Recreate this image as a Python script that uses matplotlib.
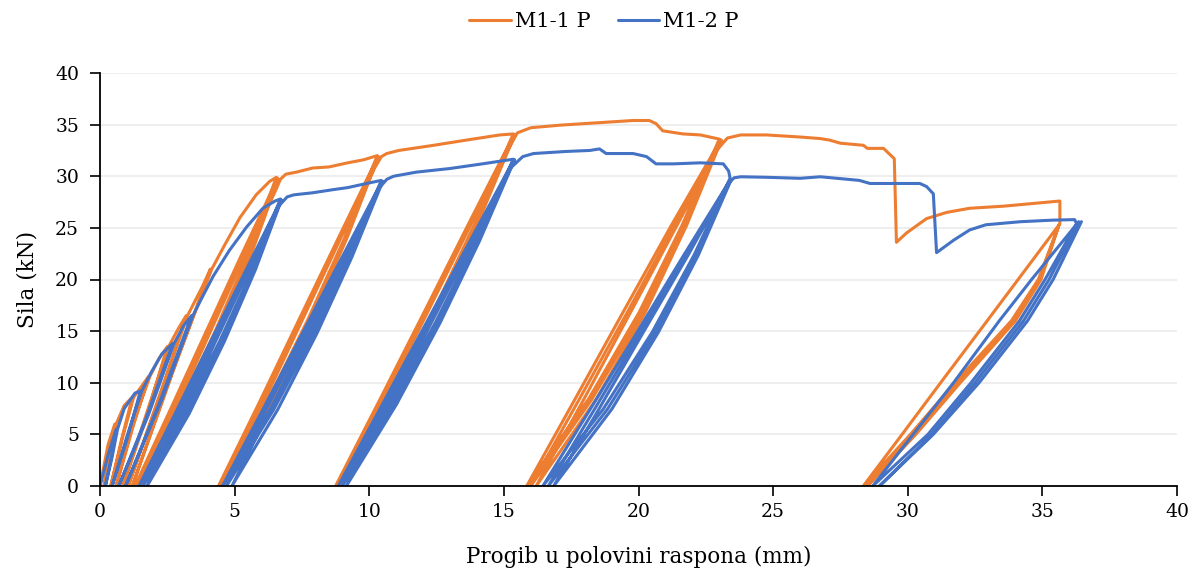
import matplotlib
matplotlib.use('Agg')
import matplotlib.pyplot as plt
import numpy as np

# ---------------- data (deflection mm, force kN) ----------------
series_names = ["M1-1 P", "M1-2 P"]
x_ticks = [0, 5, 10, 15, 20, 25, 30, 35, 40]
y_ticks = [0, 5, 10, 15, 20, 25, 30, 35, 40]

m11_stage0 = [(0, 0), (0.3, 4.0), (0.55, 6.0), (0.35, 3.0), (0.15, 0), (0.4, 3.5), (0.6, 6.0), (0.9, 7.8),
              (1.2, 8.6), (0.8, 4.5), (0.4, 0), (0.85, 4.8), (1.25, 8.6), (1.5, 9.5), (1.8, 10.6), (1.2, 5.5),
              (0.6, 0), (1.2, 5.8), (1.85, 10.6), (2.2, 12.4), (2.5, 13.5), (1.7, 6.5), (0.85, 0), (1.7, 6.8),
              (2.55, 13.5), (2.9, 15.2), (3.2, 16.5), (2.2, 8.5), (1.05, 0), (2.2, 8.7), (3.25, 16.5),
              (3.8, 19.3), (4.1, 21.0), (2.7, 11.0), (1.2, 0), (2.7, 11.2), (4.15, 21.0), (4.6, 23.2),
              (5.2, 26.0), (5.8, 28.2), (6.3, 29.5), (6.55, 29.9)]
m11_stage1 = [(6.55, 29.9), (5.49, 22.4), (4.28, 15.0), (2.91, 7.5), (1.3, 0), (2.63, 7.5), (3.95, 15.0),
              (5.26, 22.4), (6.6, 29.8), (5.56, 22.4), (4.37, 15.0), (3.01, 7.5), (1.4, 0), (2.73, 7.5),
              (4.04, 15.0), (5.33, 22.4), (6.62, 29.7), (5.61, 22.4), (4.44, 15.0), (3.09, 7.5), (1.5, 0),
              (2.81, 7.5), (4.11, 15.0), (5.38, 22.4), (6.5, 28.5), (6.7, 29.7), (6.9, 30.2), (7.3, 30.4),
              (7.9, 30.8), (8.5, 30.9), (9.2, 31.3), (9.8, 31.6), (10.3, 32.0)]
m11_stage2 = [(10.3, 32.0), (9.08, 24.0), (7.7, 16.0), (6.18, 8.0), (4.4, 0), (5.9, 8.0), (7.37, 16.0),
              (8.85, 24.0), (10.32, 31.9), (9.13, 24.0), (7.77, 16.0), (6.26, 8.0), (4.5, 0), (5.98, 8.0),
              (7.44, 16.0), (8.9, 24.0), (10.34, 31.9), (9.17, 24.0), (7.83, 16.0), (6.34, 8.0), (4.6, 0),
              (6.06, 8.0), (7.5, 16.0), (8.94, 24.0), (10.2, 30.8), (10.45, 31.9), (10.65, 32.2),
              (11.1, 32.5), (12.4, 33.0), (13.6, 33.5), (14.85, 34.0), (15.35, 34.1)]
m11_stage3 = [(15.35, 34.1), (13.94, 25.5), (12.4, 17.0), (10.7, 8.5), (8.75, 0), (10.42, 8.5), (12.07, 17.0),
              (13.71, 25.5), (15.37, 34.0), (13.99, 25.5), (12.46, 17.0), (10.78, 8.5), (8.85, 0),
              (10.5, 8.5), (12.13, 17.0), (13.76, 25.5), (15.4, 34.0), (14.04, 25.5), (12.53, 17.0),
              (10.86, 8.5), (8.95, 0), (10.58, 8.5), (12.2, 17.0), (13.81, 25.5), (15.2, 32.8), (15.5, 34.2),
              (16.0, 34.7), (17.1, 34.95), (18.6, 35.2), (19.8, 35.4), (20.4, 35.4), (20.65, 35.1),
              (20.9, 34.4), (21.65, 34.1), (22.3, 34.0), (23.0, 33.6)]
m11_stage4 = [(23.0, 33.6), (21.61, 25.2), (20.02, 16.8), (18.14, 8.4), (15.85, 0), (17.64, 8.4),
              (19.42, 16.8), (21.21, 25.2), (23.05, 33.5), (21.7, 25.2), (20.14, 16.8), (18.27, 8.4),
              (16.0, 0), (17.8, 8.4), (19.58, 16.8), (21.33, 25.2), (23.08, 33.5), (21.78, 25.2),
              (20.25, 16.8), (18.43, 8.4), (16.2, 0), (17.97, 8.4), (19.7, 16.8), (21.42, 25.2), (22.9, 32.5),
              (23.3, 33.7), (23.8, 34.0), (24.75, 34.0), (26.0, 33.8), (26.75, 33.65), (27.1, 33.5),
              (27.5, 33.2), (28.35, 33.0), (28.5, 32.7), (29.1, 32.7), (29.5, 31.7), (29.58, 23.6),
              (29.95, 24.5), (30.7, 25.9), (31.45, 26.5), (32.3, 26.9), (33.55, 27.1), (34.8, 27.4),
              (35.65, 27.6), (35.65, 25.4)]
m11_stage5 = [(35.65, 25.4), (34.1, 20.0), (32.95, 16.0), (31.22, 10.0), (29.79, 5.0), (28.35, 0),
              (30.1, 5.0), (31.75, 10.0), (33.85, 16.0), (34.85, 20.0), (35.62, 25.3), (34.95, 20.0),
              (34.0, 16.0), (31.95, 10.0), (30.3, 5.0), (28.5, 0), (30.2, 5.0), (31.85, 10.0), (33.9, 16.0),
              (34.9, 20.0), (35.6, 25.2)]

m12_stage0 = [(0, 0), (0.3, 3.0), (0.6, 5.5), (0.4, 2.5), (0.2, 0), (0.45, 2.8), (0.65, 5.5), (0.9, 7.5),
              (1.3, 9.0), (1.5, 9.2), (1.0, 4.5), (0.45, 0), (1.0, 4.8), (1.55, 9.2), (1.9, 11.0), (2.3, 12.8),
              (2.7, 13.8), (1.7, 6.5), (0.7, 0), (1.8, 6.9), (2.75, 13.8), (3.1, 15.5), (3.4, 16.5),
              (2.2, 8.0), (0.95, 0), (2.3, 8.4), (3.45, 16.5), (3.8, 18.3), (4.2, 20.3), (4.8, 22.8),
              (5.45, 25.1), (6.05, 26.9), (6.5, 27.6), (6.7, 27.8)]
m12_stage1 = [(6.7, 27.8), (5.67, 21.0), (4.44, 14.0), (3.07, 7.0), (1.45, 0), (2.79, 7.0), (4.11, 14.0),
              (5.44, 21.0), (6.72, 27.7), (5.73, 21.0), (4.53, 14.0), (3.19, 7.0), (1.6, 0), (2.91, 7.0),
              (4.2, 14.0), (5.5, 21.0), (6.74, 27.7), (5.78, 21.0), (4.62, 14.0), (3.31, 7.0), (1.75, 0),
              (3.03, 7.0), (4.29, 14.0), (5.55, 21.0), (6.6, 27.0), (6.95, 28.0), (7.2, 28.2), (7.9, 28.4),
              (8.65, 28.7), (9.2, 28.9), (9.9, 29.3), (10.45, 29.6)]
m12_stage2 = [(10.45, 29.6), (9.23, 22.2), (7.85, 14.8), (6.33, 7.4), (4.55, 0), (6.05, 7.4), (7.52, 14.8),
              (9.0, 22.2), (10.47, 29.5), (9.29, 22.2), (7.95, 14.8), (6.45, 7.4), (4.7, 0), (6.17, 7.4),
              (7.62, 14.8), (9.06, 22.2), (10.5, 29.5), (9.36, 22.2), (8.06, 14.8), (6.6, 7.4), (4.9, 0),
              (6.32, 7.4), (7.73, 14.8), (9.13, 22.2), (10.35, 28.8), (10.65, 29.7), (10.9, 30.0),
              (11.75, 30.4), (13.0, 30.75), (14.2, 31.2), (15.35, 31.65)]
m12_stage3 = [(15.35, 31.65), (13.97, 23.7), (12.45, 15.8), (10.77, 7.9), (8.85, 0), (10.49, 7.9),
              (12.12, 15.8), (13.74, 23.7), (15.37, 31.6), (14.03, 23.7), (12.54, 15.8), (10.89, 7.9),
              (9.0, 0), (10.61, 7.9), (12.21, 15.8), (13.8, 23.7), (15.4, 31.6), (14.09, 23.7),
              (12.63, 15.8), (11.01, 7.9), (9.15, 0), (10.73, 7.9), (12.3, 15.8), (13.86, 23.7),
              (15.25, 30.8), (15.7, 31.9), (16.1, 32.2), (17.3, 32.4), (18.2, 32.5), (18.55, 32.65),
              (18.8, 32.2), (19.8, 32.2), (20.3, 31.9), (20.65, 31.2), (21.3, 31.2), (22.3, 31.3),
              (23.15, 31.2), (23.35, 30.5), (23.4, 29.8)]
m12_stage4 = [(23.4, 29.8), (22.06, 22.35), (20.51, 14.9), (18.69, 7.45), (16.45, 0), (18.21, 7.45),
              (19.95, 14.9), (21.68, 22.35), (23.42, 29.7), (22.14, 22.35), (20.63, 14.9), (18.85, 7.45),
              (16.65, 0), (18.37, 7.45), (20.07, 14.9), (21.76, 22.35), (23.45, 29.7), (22.22, 22.35),
              (20.74, 14.9), (19.01, 7.45), (16.85, 0), (18.53, 7.45), (20.18, 14.9), (21.84, 22.35),
              (23.3, 29.2), (23.55, 29.85), (23.8, 29.95), (24.75, 29.9), (26.0, 29.8), (26.75, 29.95),
              (28.2, 29.6), (28.6, 29.3), (30.45, 29.3), (30.7, 29.0), (30.95, 28.3), (31.07, 22.6),
              (31.7, 23.8), (32.3, 24.8), (32.9, 25.3), (34.2, 25.6), (35.4, 25.75), (36.2, 25.8),
              (36.27, 25.4)]
m12_stage5 = [(36.27, 25.4), (35.1, 20.0), (34.15, 16.0), (32.35, 10.0), (30.75, 5.0), (28.7, 0),
              (30.2, 5.0), (31.7, 10.0), (33.4, 16.0), (34.6, 20.0), (36.35, 25.6), (35.25, 20.0),
              (34.3, 16.0), (32.5, 10.0), (30.9, 5.0), (28.95, 0), (30.95, 5.0), (32.65, 10.0),
              (34.45, 16.0), (35.4, 20.0), (36.45, 25.6)]

m11_stages = [m11_stage0, m11_stage1, m11_stage2, m11_stage3, m11_stage4, m11_stage5]
m12_stages = [m12_stage0, m12_stage1, m12_stage2, m12_stage3, m12_stage4, m12_stage5]
colors = ["#ED7D31", "#4472C4"]

# ---------------- plot ----------------
plt.rcParams['font.family'] = ['DejaVu Serif']
fig = plt.figure(figsize=(11.99, 5.77), dpi=100)
ax = fig.add_axes([100 / 1199, 1 - 486 / 577, 1077 / 1199, 413 / 577])

for name, stages, col in zip(series_names, [m11_stages, m12_stages], colors):
    pts = np.array([p for st in stages for p in st])
    ax.plot(pts[:, 0], pts[:, 1], color=col, lw=2.2, label=name,
            solid_joinstyle='round', solid_capstyle='round')

ax.set_xlim(0, 40)
ax.set_ylim(0, 40)
ax.set_xticks(x_ticks)
ax.set_yticks(y_ticks)
ax.grid(axis='y', color='#EBEBEB', lw=1.2)
ax.set_axisbelow(True)
for s in ['top', 'right']:
    ax.spines[s].set_visible(False)
for s in ['left', 'bottom']:
    ax.spines[s].set_color('black')
    ax.spines[s].set_linewidth(1.3)
ax.tick_params(direction='out', length=7, width=1.2, labelsize=13.5, colors='black')
ax.tick_params(axis='y', pad=8)
ax.tick_params(axis='x', pad=5)
ax.set_xlabel('Progib u polovini raspona (mm)', fontsize=15.5, labelpad=18)
ax.set_ylabel('Sila (kN)', fontsize=15.5, labelpad=12)

fig.legend(loc='center', bbox_to_anchor=(604 / 1199, 0.962), ncol=2, frameon=False,
           fontsize=15, handlelength=2.0, handletextpad=0.2, columnspacing=1.3)

fig.savefig('out.png', dpi=100)
